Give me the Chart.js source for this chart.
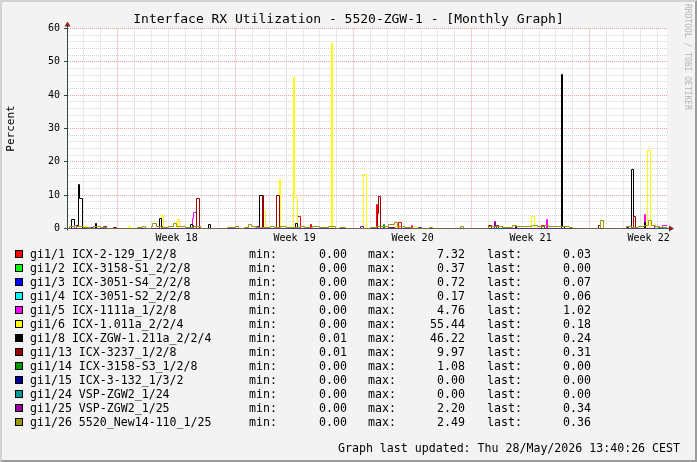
<!DOCTYPE html>
<html lang="en">
<head>
<meta charset="UTF-8">
<title>Interface RX Utilization - 5520-ZGW-1</title>
<script src="https://cdn.jsdelivr.net/npm/chart.js@4"></script>
<style>
    body { margin: 0; background: #f3f3f3; }
    #wrap { position: relative; width: 697px; height: 462px; overflow: hidden; font-family: 'DejaVu Sans Mono', monospace; color: #000; }
    #chart { position: absolute; left: 0; top: 0; }
    #frame { position: absolute; left: 0; top: 0; width: 697px; height: 462px; box-sizing: border-box;
             border-top: 2px solid #d2d2d2; border-left: 2px solid #d2d2d2; border-right: 2px solid #9c9c9c; border-bottom: 2px solid #9c9c9c; pointer-events: none; }
    .title { position: absolute; left: 0; top: 10px; width: 697px; text-align: center; font-size: 13px; line-height: 17px; white-space: pre; }
    .mark { position: absolute; left: 683px; top: 4px; writing-mode: vertical-rl; font-size: 8px; color: #b4b4b4; white-space: pre; }
    .t { position: absolute; font-size: 11.6px; line-height: 14px; white-space: pre; }
    .r { text-align: right; }
    .box { position: absolute; width: 8px; height: 8px; box-sizing: border-box; border: 1px solid #000; }
</style>
</head>
<body>
<div id="wrap">
    <canvas id="chart" width="697" height="462"></canvas>
    <div class="title">Interface RX Utilization - 5520-ZGW-1 - [Monthly Graph]</div>
    <div class="mark">RRDTOOL / TOBI OETIKER</div>
    <div id="legend"></div>
    <div class="t r" style="right:17px; top:441px;">Graph last updated: Thu 28/May/2026 13:40:26 CEST</div>
    <div id="frame"></div>
</div>
<script>
// x values are hours from the left edge of the graph (2h rrd steps)
const hourMax = 854.2;
const weekStarts = [72, 240, 408, 576, 744];
const weekLabels = ['Week 18', 'Week 19', 'Week 20', 'Week 21', 'Week 22'];

const names = ['gi1/1 ICX-2-129_1/2/8', 'gi1/2 ICX-3158-S1_2/2/8', 'gi1/3 ICX-3051-S4_2/2/8', 'gi1/4 ICX-3051-S2_2/2/8',
    'gi1/5 ICX-1111a_1/2/8', 'gi1/6 ICX-1.011a_2/2/4', 'gi1/8 ICX-ZGW-1.211a_2/2/4', 'gi1/13 ICX-3237_1/2/8',
    'gi1/14 ICX-3158-S3_1/2/8', 'gi1/15 ICX-3-132_1/3/2', 'gi1/24 VSP-ZGW2_1/24', 'gi1/25 VSP-ZGW2_1/25',
    'gi1/26 5520_New14-110_1/25'];
const colors = ['#ff0000', '#00ff00', '#0000ff', '#00ffff', '#ff00ff', '#ffff00', '#000000', '#990000',
    '#009900', '#000099', '#009999', '#990099', '#999900'];
const minVals = [0.00, 0.00, 0.00, 0.00, 0.00, 0.00, 0.01, 0.01, 0.00, 0.00, 0.00, 0.00, 0.00];
const maxVals = [7.32, 0.37, 0.72, 0.17, 4.76, 55.44, 46.22, 9.97, 1.08, 0.00, 0.00, 2.20, 2.49];
const lastVals = [0.03, 0.00, 0.07, 0.06, 1.02, 0.18, 0.24, 0.31, 0.00, 0.00, 0.00, 0.34, 0.36];

const red = [[0,0],[328,3.6],[332,0],[346,1.1],[348,0],[440,7.32],[442,0],[472,1.9],[476,0],
    [676,1.0],[680,0],[798,0.3],[800,0],[848,0.03],[854.2,0.03]];
const lime = [[0,0],[490,0.37],[492,0],[854.2,0]];
const blue = [[0,0],[490,0.72],[492,0],[798,0.5],[800,0],[848,0.07],[854.2,0.07]];
const cyan = [[0,0],[492,0.17],[494,0],[848,0.06],[854.2,0.06]];
const magenta = [[0,0],[10,1.0],[14,0],[178,3.0],[180,4.76],[184,0],[490,0.9],[492,0],[682,2.7],[684,0],
    [822,4.2],[824,0],[848,1.02],[854.2,1.02]];
const yellow = [[0,0],[18,0.5],[28,0],[88,0.5],[90,0],[134,3.9],[138,0],[158,2.7],[160,0],[280,5.1],[282,0],
    [302,14.6],[304,0],[322,45.3],[324,9.3],[328,0],[376,55.44],[378,0],[422,16.2],[426,0],
    [468,0.6],[474,0],[494,0.5],[498,0],[662,3.6],[666,0],[826,23.4],[830,0],[844,0.18],[854.2,0.18]];
const black = [[0,0],[6,2.6],[10,1.0],[16,13.2],[18,9.0],[22,0],[40,1.5],[42,0],[132,3.0],[134,0],
    [176,1.3],[178,1.0],[180,0],[202,1.2],[204,0],[274,9.9],[278,0],[326,1.5],[328,0],[638,0.6],[640,0],
    [704,46.22],[706,0.5],[708,0],[804,17.7],[806,0],[822,1.9],[824,0],[848,0.24],[854.2,0.24]];
const darkRed = [[0,0],[66,0.3],[70,0],[184,9.0],[188,0],[278,9.97],[280,0],[298,9.9],[302,0],
    [442,4.4],[444,9.6],[446,0],[462,0.4],[466,0],[600,0.8],[604,0],[612,1.0],[614,0],
    [756,0.8],[760,0],[806,3.6],[810,0],[848,0.31],[854.2,0.31]];
const green = [[0,0],[450,1.08],[452,0],[854.2,0]];
const navy = [[0,0],[854.2,0]];
const teal = [[0,0],[854.2,0]];
const purple = [[0,0],[34,0.4],[38,0],[52,0.5],[56,0],[132,0.5],[136,0],[172,0.4],[176,0],[270,0.5],[274,0],
    [316,0.4],[320,0],[418,0.6],[422,0],[458,0.4],[462,0],[500,0.4],[504,0],[608,2.2],[610,0.6],[620,0.4],[624,0],
    [676,0.5],[680,0],[800,0.5],[804,0],[836,0.5],[842,0.34],[854.2,0.34]];
const olive = [[0,0],[4,0.5],[10,0.9],[14,0.6],[24,0.3],[32,0],[38,0.5],[48,0.3],[56,0],
    [100,0.4],[108,0.5],[112,0],[120,0.6],[122,1.4],[128,0.7],[134,0.4],[144,0.6],[152,1.4],[156,0.5],
    [168,0.3],[180,0.6],[190,0],[228,0.3],[240,0.5],[244,0],[252,0.4],[258,1.3],[262,0.5],[268,0.4],
    [276,0.3],[290,0.7],[296,0.3],[304,0.5],[312,0.4],[332,0.7],[338,0.4],[350,0.6],[360,0.4],
    [372,0.6],[382,0],[388,0.4],[396,0],[432,0.4],[440,0.5],[452,0.7],[458,1.2],[466,1.8],[470,0.5],
    [480,0.3],[490,0],[516,0.4],[520,0],[560,0.5],[564,0],[600,0.6],[608,0.5],[620,0.4],[634,0.8],
    [640,0.6],[650,0.5],[662,0.9],[670,0.5],[680,0.8],[686,0.6],[700,0.6],[716,0.3],[720,0],
    [760,2.49],[764,0],[796,0.5],[804,0.3],[814,0.6],[822,0.8],[828,2.4],[832,0.8],[838,0.5],[844,0.36],[854.2,0.36]];
const seriesData = [red, lime, blue, cyan, magenta, yellow, black, darkRed, green, navy, teal, purple, olive];

const axisColor = '#2c4d43';
const minorGrid = '#d4d4d4';
const majorGrid = '#eba0a0';

// legend rows, rrdtool style
const legend = document.getElementById('legend');
names.forEach((n, i) => {
    const top = 247 + i * 14;
    legend.insertAdjacentHTML('beforeend',
        `<div class="box" style="left:15px; top:${top + 3}px; background:${colors[i]}"></div>` +
        `<div class="t" style="left:30px; top:${top}px">${n}</div>` +
        `<div class="t" style="left:249px; top:${top}px">min:</div>` +
        `<div class="t r" style="right:350px; top:${top}px">${minVals[i].toFixed(2)}</div>` +
        `<div class="t" style="left:368px; top:${top}px">max:</div>` +
        `<div class="t r" style="right:232px; top:${top}px">${maxVals[i].toFixed(2)}</div>` +
        `<div class="t" style="left:487px; top:${top}px">last:</div>` +
        `<div class="t r" style="right:106px; top:${top}px">${lastVals[i].toFixed(2)}</div>`);
});

const plotBg = {
    id: 'plotBg',
    beforeDraw(chart) {
        const { ctx, chartArea: a } = chart;
        ctx.save();
        ctx.fillStyle = '#ffffff';
        ctx.fillRect(a.left, a.top, a.right - a.left, a.bottom - a.top);
        ctx.restore();
    }
};

// snap line vertices to pixel centres so 1px lines stay crisp like rrdtool
const crispLines = {
    id: 'crispLines',
    beforeDatasetsDraw(chart) {
        chart.getSortedVisibleDatasetMetas().forEach(meta => {
            meta.data.forEach(p => {
                p.x = Math.floor(p.x) + 0.5;
                p.y = Math.floor(p.y) + 0.5;
            });
        });
    }
};

const axisArrows = {
    id: 'axisArrows',
    afterDraw(chart) {
        const { ctx, chartArea: a } = chart;
        const x0 = Math.round(a.left) + 0.5, y0 = Math.round(a.bottom) - 0.5;
        ctx.save();
        ctx.strokeStyle = axisColor;
        ctx.lineWidth = 1;
        ctx.beginPath();
        ctx.moveTo(a.right, y0); ctx.lineTo(a.right + 3, y0);
        ctx.moveTo(x0, a.top); ctx.lineTo(x0, a.top - 3);
        ctx.moveTo(x0, y0); ctx.lineTo(x0, y0 + 2);
        ctx.stroke();
        ctx.fillStyle = '#8b1f1f';
        ctx.beginPath();
        ctx.moveTo(a.right + 2, y0 - 3); ctx.lineTo(a.right + 7, y0); ctx.lineTo(a.right + 2, y0 + 3);
        ctx.closePath(); ctx.fill();
        ctx.beginPath();
        ctx.moveTo(x0 - 3, a.top - 2); ctx.lineTo(x0, a.top - 7); ctx.lineTo(x0 + 3, a.top - 2);
        ctx.closePath(); ctx.fill();
        ctx.restore();
    }
};

const datasets = seriesData.map((d, i) => ({
    label: names[i],
    data: d,
    borderColor: colors[i],
    backgroundColor: colors[i],
    borderWidth: 1,
    pointRadius: 0,
    stepped: 'before',
    tension: 0,
    order: names.length - i
}));

new Chart(document.getElementById('chart'), {
    type: 'line',
    data: { datasets },
    options: {
        responsive: false,
        animation: false,
        devicePixelRatio: 1,
        layout: { padding: { left: 0, top: 28.5, right: 30, bottom: 213.5 } },
        plugins: { legend: { display: false }, tooltip: { enabled: false }, title: { display: false } },
        scales: {
            x: {
                type: 'linear',
                min: 0,
                max: hourMax,
                afterBuildTicks: (scale) => {
                    const t = [];
                    for (let h = 0; h <= hourMax; h += 12) t.push({ value: h });
                    scale.ticks = t;
                },
                afterFit: (scale) => { scale.height = 20; },
                ticks: {
                    autoSkip: false,
                    maxRotation: 0,
                    padding: 2,
                    color: '#000',
                    font: { family: 'DejaVu Sans Mono', size: 10 },
                    callback: (v) => {
                        const w = weekStarts.indexOf(v - 84);
                        return w >= 0 ? weekLabels[w] : '';
                    }
                },
                grid: {
                    color: (c) => {
                        if (!c.tick || c.tick.value % 24 !== 0) return 'transparent';
                        return weekStarts.includes(c.tick.value) ? majorGrid : minorGrid;
                    },
                    tickColor: 'transparent',
                    tickLength: 2
                },
                border: { color: axisColor, width: 1, dash: [1, 1] }
            },
            y: {
                min: 0,
                max: 60,
                afterFit: (scale) => { scale.width = 67; },
                ticks: {
                    stepSize: 2,
                    autoSkip: false,
                    padding: 4,
                    color: '#000',
                    font: { family: 'DejaVu Sans Mono', size: 10 },
                    callback: (v) => (v % 10 === 0 ? String(v) : '')
                },
                grid: {
                    color: (c) => (c.tick && c.tick.value % 10 === 0 ? majorGrid : minorGrid),
                    tickColor: (c) => (c.tick && c.tick.value % 10 === 0 ? axisColor : 'transparent'),
                    tickLength: 3
                },
                border: { color: axisColor, width: 1, dash: [1, 1] },
                title: {
                    display: true,
                    text: 'Percent',
                    color: '#000',
                    font: { family: 'DejaVu Sans Mono', size: 11 },
                    padding: { top: 5, bottom: 0 }
                }
            }
        }
    },
    plugins: [plotBg, crispLines, axisArrows]
});
</script>
</body>
</html>
